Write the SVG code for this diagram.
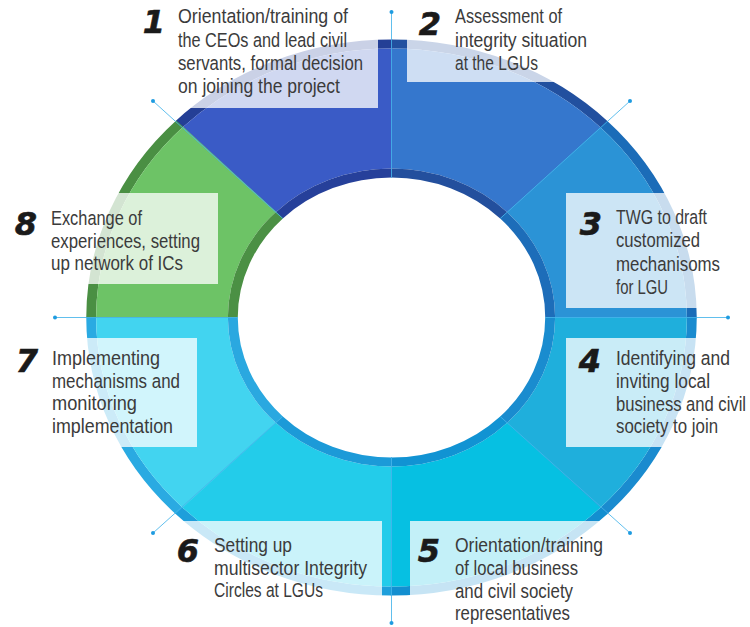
<svg xmlns="http://www.w3.org/2000/svg" width="750" height="627" viewBox="0 0 750 627">
<style>
.box{fill:#fff;fill-opacity:0.76}
.num{font-family:"DejaVu Sans",sans-serif;font-weight:bold;font-style:italic;font-size:32px;fill:#1a1a1a;stroke:#1a1a1a;stroke-width:0.6;text-anchor:middle}
.txt{font-family:"Liberation Sans",Arial,sans-serif;font-size:20.5px;fill:#3b3b3b}
.tick{stroke:#45b4ea;stroke-width:1;fill:none;stroke-opacity:0.85}
.dot{fill:#1e9be0}
</style>
<defs>
<path id="bo" d="M278,0 A278,278 0 0 1 196.06,197.09 L189.71,190.71 A269,269 0 0 0 269,0 Z"/>
<path id="mn" d="M269,0 A269,269 0 0 1 189.71,190.71 L105.08,105.64 A149,149 0 0 0 149,0 Z"/>
<path id="bi" d="M149,0 A149,149 0 0 1 105.08,105.64 L98.74,99.25 A140,140 0 0 0 140,0 Z"/>
</defs>
<rect width="750" height="627" fill="#fff"/>

<g id="step1">
<g transform="translate(391.5,317.5) scale(1.098,1) rotate(225)"><use href="#bo" fill="#243f96"/><use href="#mn" fill="#3a5bc6"/><use href="#bi" fill="#26409a"/></g>
<rect class="box" x="140" y="0" width="238" height="108"/>
<text class="num" x="154" y="33">1</text>
<text class="txt" x="178" y="23" textLength="170" lengthAdjust="spacingAndGlyphs">Orientation/training of</text>
<text class="txt" x="178" y="46.5" textLength="169" lengthAdjust="spacingAndGlyphs">the CEOs and lead civil</text>
<text class="txt" x="178" y="70" textLength="185" lengthAdjust="spacingAndGlyphs">servants, formal decision</text>
<text class="txt" x="178" y="93.3" textLength="162" lengthAdjust="spacingAndGlyphs">on joining the project</text>
</g>

<g id="step2">
<g transform="translate(391.5,317.5) scale(1.098,1) rotate(270)"><use href="#bo" fill="#22509f"/><use href="#mn" fill="#3577cd"/><use href="#bi" fill="#234f9d"/></g>
<rect class="box" x="407" y="0" width="200" height="82"/>
<text class="num" x="430" y="35">2</text>
<text class="txt" x="455" y="23" textLength="107" lengthAdjust="spacingAndGlyphs">Assessment of</text>
<text class="txt" x="455" y="46.5" textLength="132" lengthAdjust="spacingAndGlyphs">integrity situation</text>
<text class="txt" x="455" y="70" textLength="83" lengthAdjust="spacingAndGlyphs">at the LGUs</text>
</g>

<g id="step3">
<g transform="translate(391.5,317.5) scale(1.098,1) rotate(315)"><use href="#bo" fill="#1b6cb8"/><use href="#mn" fill="#2b93d6"/><use href="#bi" fill="#1d6db9"/></g>
<rect class="box" x="566" y="193" width="184" height="115"/>
<text class="num" x="591" y="235">3</text>
<text class="txt" x="616" y="224" textLength="91" lengthAdjust="spacingAndGlyphs">TWG to draft</text>
<text class="txt" x="616" y="247.4" textLength="84" lengthAdjust="spacingAndGlyphs">customized</text>
<text class="txt" x="616" y="270.8" textLength="104" lengthAdjust="spacingAndGlyphs">mechanisoms</text>
<text class="txt" x="616" y="294" textLength="52" lengthAdjust="spacingAndGlyphs">for LGU</text>
</g>

<g id="step4">
<g transform="translate(391.5,317.5) scale(1.098,1) rotate(0)"><use href="#bo" fill="#1a8bcf"/><use href="#mn" fill="#1fafdc"/><use href="#bi" fill="#1a8ccf"/></g>
<rect class="box" x="566" y="338" width="184" height="109"/>
<text class="num" x="590" y="372">4</text>
<text class="txt" x="616" y="365" textLength="114" lengthAdjust="spacingAndGlyphs">Identifying and</text>
<text class="txt" x="616" y="388" textLength="94" lengthAdjust="spacingAndGlyphs">inviting local</text>
<text class="txt" x="616" y="410.5" textLength="130" lengthAdjust="spacingAndGlyphs">business and civil</text>
<text class="txt" x="616" y="433" textLength="102" lengthAdjust="spacingAndGlyphs">society to join</text>
</g>

<g id="step5">
<g transform="translate(391.5,317.5) scale(1.098,1) rotate(45)"><use href="#bo" fill="#138fd0"/><use href="#mn" fill="#06c0e2"/><use href="#bi" fill="#1193d3"/></g>
<rect class="box" x="410" y="521" width="200" height="106"/>
<text class="num" x="429" y="562">5</text>
<text class="txt" x="455" y="552" textLength="148" lengthAdjust="spacingAndGlyphs">Orientation/training</text>
<text class="txt" x="455" y="575" textLength="123" lengthAdjust="spacingAndGlyphs">of local business</text>
<text class="txt" x="455" y="597.5" textLength="118" lengthAdjust="spacingAndGlyphs">and civil society</text>
<text class="txt" x="455" y="620" textLength="115" lengthAdjust="spacingAndGlyphs">representatives</text>
</g>

<g id="step6">
<g transform="translate(391.5,317.5) scale(1.098,1) rotate(90)"><use href="#bo" fill="#1e9fdb"/><use href="#mn" fill="#23ccea"/><use href="#bi" fill="#1c9ad8"/></g>
<rect class="box" x="170" y="521" width="212" height="106"/>
<text class="num" x="188" y="562">6</text>
<text class="txt" x="214" y="552" textLength="78" lengthAdjust="spacingAndGlyphs">Setting up</text>
<text class="txt" x="214" y="574.5" textLength="153" lengthAdjust="spacingAndGlyphs">multisector Integrity</text>
<text class="txt" x="214" y="597" textLength="109" lengthAdjust="spacingAndGlyphs">Circles at LGUs</text>
</g>

<g id="step7">
<g transform="translate(391.5,317.5) scale(1.098,1) rotate(135)"><use href="#bo" fill="#2aaae2"/><use href="#mn" fill="#42d4f0"/><use href="#bi" fill="#2aa8e0"/></g>
<rect class="box" x="0" y="338" width="197" height="109"/>
<text class="num" x="27" y="372">7</text>
<text class="txt" x="52" y="365" textLength="108" lengthAdjust="spacingAndGlyphs">Implementing</text>
<text class="txt" x="52" y="387.5" textLength="128" lengthAdjust="spacingAndGlyphs">mechanisms and</text>
<text class="txt" x="52" y="410" textLength="85" lengthAdjust="spacingAndGlyphs">monitoring</text>
<text class="txt" x="52" y="433" textLength="121" lengthAdjust="spacingAndGlyphs">implementation</text>
</g>

<g id="step8">
<g transform="translate(391.5,317.5) scale(1.098,1) rotate(180)"><use href="#bo" fill="#4a8f43"/><use href="#mn" fill="#6dc366"/><use href="#bi" fill="#4b9044"/></g>
<rect class="box" x="0" y="193" width="218" height="91"/>
<text class="num" x="26" y="235">8</text>
<text class="txt" x="51" y="225" textLength="91" lengthAdjust="spacingAndGlyphs">Exchange of</text>
<text class="txt" x="51" y="247.5" textLength="149" lengthAdjust="spacingAndGlyphs">experiences, setting</text>
<text class="txt" x="51" y="270" textLength="132" lengthAdjust="spacingAndGlyphs">up network of ICs</text>
</g>

<g id="connectors">
<line class="tick" x1="391.5" y1="178" x2="391.5" y2="12"/>
<line class="tick" x1="391.5" y1="457" x2="391.5" y2="623"/>
<line class="tick" x1="238" y1="317.5" x2="55" y2="317.5"/>
<line class="tick" x1="545" y1="317.5" x2="728" y2="317.5"/>
<line class="tick" x1="282.8" y1="218.5" x2="153" y2="101"/>
<line class="tick" x1="500.2" y1="218.5" x2="630" y2="101"/>
<line class="tick" x1="282.8" y1="416.5" x2="153" y2="533"/>
<line class="tick" x1="500.2" y1="416.5" x2="630" y2="533"/>
<circle class="dot" cx="391.5" cy="12" r="2"/>
<circle class="dot" cx="391.5" cy="623" r="2"/>
<circle class="dot" cx="55" cy="317.5" r="2"/>
<circle class="dot" cx="728" cy="317.5" r="2"/>
<circle class="dot" cx="153" cy="101" r="2"/>
<circle class="dot" cx="630" cy="101" r="2"/>
<circle class="dot" cx="153" cy="533" r="2"/>
<circle class="dot" cx="630" cy="533" r="2"/>
</g>
</svg>
